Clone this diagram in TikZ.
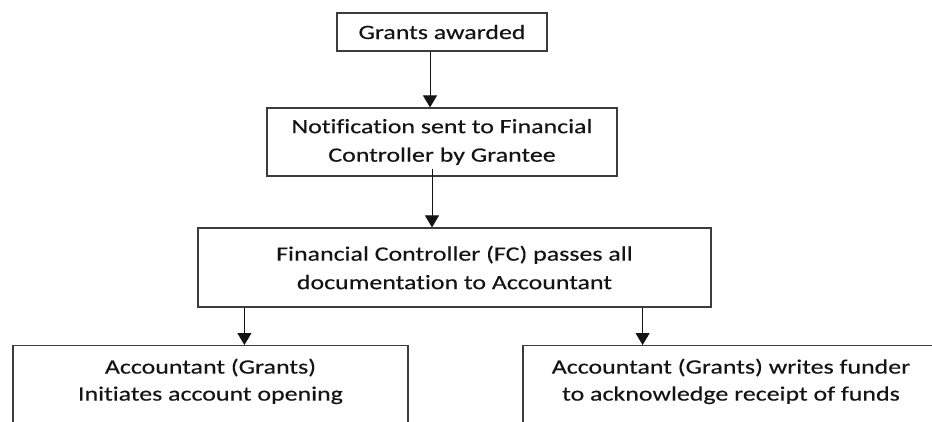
\documentclass[tikz,border=0pt]{standalone}
\usepackage{fontspec}
\setmainfont[FakeStretch=1.27,FakeBold=0.3,Ligatures=NoCommon]{Carlito}
\usetikzlibrary{arrows.meta,calc}
\definecolor{edge}{HTML}{3C3C3C}
\definecolor{ink}{HTML}{141414}
\tikzset{
  box/.style={draw=edge, line width=1.2pt, align=center, text=ink,
    font=\fontsize{20.4}{28.5}\selectfont, inner sep=0pt},
  arr/.style={draw=ink, line width=1pt, -{Triangle[width=14pt,length=12pt]}, shorten >=0pt}
}
\begin{document}
\begin{tikzpicture}[x=1pt,y=-1pt]
\clip (0,0) rectangle (932,421);
\fill[white] (0,0) rectangle (932,421);
\node[box, minimum width=210, minimum height=38] (b1) at (442,32) {Grants awarded};
\node[box, minimum width=350, minimum height=68] (b2) at (442,142) {Notification sent to Financial\\Controller by Grantee};
\node[box, minimum width=513, minimum height=79] (b3) at (454.5,267.5) {Financial Controller (FC) passes all\\documentation to Accountant};
\node[box, minimum width=395, minimum height=110, anchor=north, align=center, font=\fontsize{20.4}{27}\selectfont] (b4) at (210.5,345) {\begin{tabular}{@{}c@{}}\\[-27pt]\rule{0pt}{28pt}Accountant (Grants)\\Initiates account opening\\[55pt]\end{tabular}};
\node[box, minimum width=416, minimum height=110, anchor=north, align=center, font=\fontsize{20.4}{27}\selectfont] (b5) at (731,345) {\begin{tabular}{@{}c@{}}\\[-27pt]\rule{0pt}{28pt}Accountant (Grants) writes funder\\to acknowledge receipt of funds\\[55pt]\end{tabular}};
\coordinate (s1) at ($(b1.south)+(-12,0)$);
\coordinate (s2) at ($(b2.south)+(-10,-8)$);
\coordinate (s3) at ($(b3.south west)+(47,0)$);
\coordinate (s4) at ($(b3.south east)+(-69,0)$);
\draw[arr] (s1) -- (s1 |- b2.north);
\draw[arr] (s2) -- (s2 |- b3.north);
\draw[arr] (s3) -- (s3 |- b4.north);
\draw[arr] (s4) -- (s4 |- b5.north);
\end{tikzpicture}
\end{document}
